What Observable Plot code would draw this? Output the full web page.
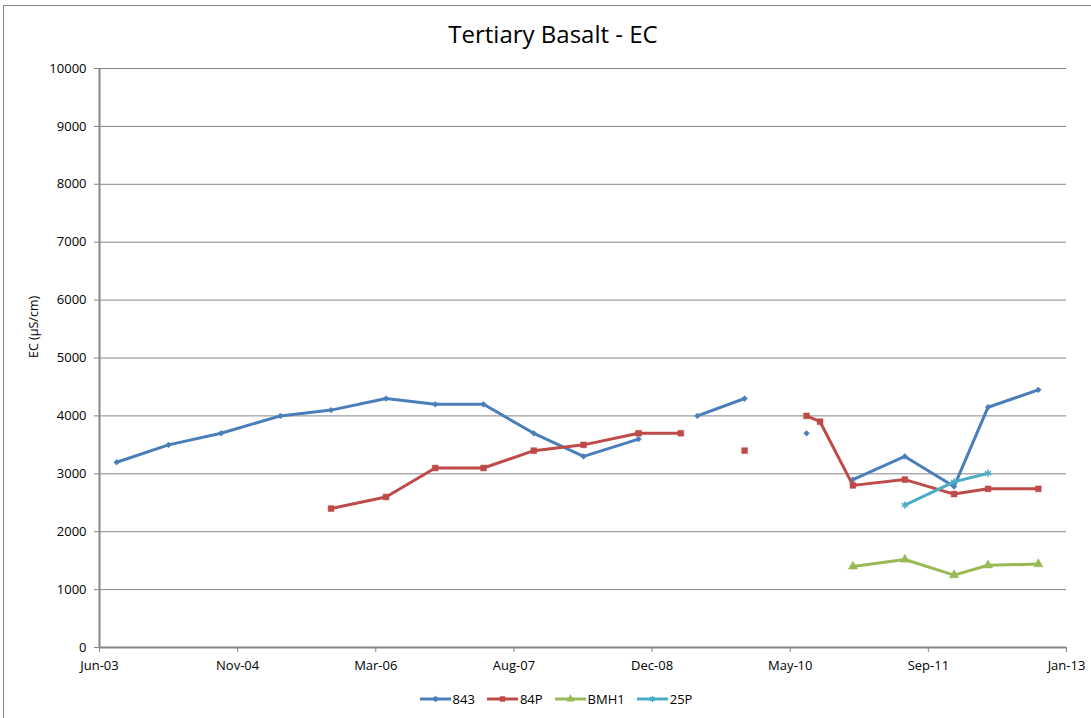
<!DOCTYPE html>
<html>
<head>
<meta charset="utf-8">
<script src="https://cdn.jsdelivr.net/npm/d3@7"></script>
<script src="https://cdn.jsdelivr.net/npm/@observablehq/plot@0.6"></script>
<style>
  html, body { margin: 0; padding: 0; background: #fff; overflow: hidden; }
  #frame { position: absolute; left: 3px; top: 5px; width: 1120px; height: 740px; border: 1px solid #868686; box-sizing: border-box; }
  #chart { position: relative; width: 1091px; }
  #title { height: 55px; box-sizing: border-box; padding-top: 19px; padding-left: 15px; text-align: center;
           font-family: "Open Sans", sans-serif; font-size: 24px; line-height: 30px; color: #000; }
  #legend { height: 38px; box-sizing: border-box; padding-left: 21px; display: flex; justify-content: center; align-items: center;
            font-family: "Open Sans", sans-serif; font-size: 13px; color: #000; }
  .item { display: flex; align-items: center; margin: 0 6px; }
  .item svg { margin-right: 2px; }
</style>
</head>
<body>
<div id="frame"></div>
<div id="chart">
  <div id="title">Tertiary Basalt - EC</div>
  <div id="plot"></div>
  <div id="legend"></div>
</div>
<script>
// ---- data ----
const dates = ["2003-08-29","2004-03-04","2004-09-10","2005-04-13","2005-10-13","2006-04-30","2006-10-25",
  "2007-04-18","2007-10-17","2008-04-14","2008-10-30","2009-04-01","2009-05-31","2009-11-18","2010-03-01",
  "2010-06-30","2010-08-18","2010-12-15","2011-06-21","2011-12-16","2012-04-17","2012-10-16"];
const s843  = [3200,3500,3700,4000,4100,4300,4200,4200,3700,3300,3600,null,4000,4300,null,3700,null,2900,3300,2780,4150,4450];
const s84P  = [null,null,null,null,2400,2600,3100,3100,3400,3500,3700,3700,null,3400,null,4000,3900,2800,2900,2650,2740,2740];
const sBMH1 = [null,null,null,null,null,null,null,null,null,null,null,null,null,null,null,null,null,1400,1520,1250,1420,1440];
const s25P  = [null,null,null,null,null,null,null,null,null,null,null,null,null,null,null,null,null,null,2460,2860,3010];
const seriesNames = ["843", "84P", "BMH1", "25P"];
const seriesValues = [s843, s84P, sBMH1, s25P];
const seriesColors = ["#4A7EBB", "#BE4B48", "#98B954", "#4BACC6"];
const seriesSymbols = ["diamond2", "square", "triangle", "asterisk"];
const yTicks = [0,1000,2000,3000,4000,5000,6000,7000,8000,9000,10000];
const xStart = "2003-06-28";
const xStepDays = 500;
const xTickCount = 8;

// ---- build ----
const DAY = 864e5;
const start = new Date(xStart + "T00:00:00Z");
const xTicks = d3.range(xTickCount).map(k => new Date(+start + k * xStepDays * DAY));
const end = xTicks[xTicks.length - 1];

const marks = [
  Plot.ruleY(yTicks.filter(v => v > 0), {stroke: "#868686", strokeWidth: 1}),
  Plot.axisY({ticks: yTicks, tickFormat: d => String(d), tickSize: 5, tickPadding: 8, label: null, stroke: "#868686", color: "#000"}),
  Plot.axisX({ticks: xTicks, tickFormat: d3.utcFormat("%b-%y"), tickSize: 5, tickPadding: 8, label: null, stroke: "#868686", color: "#000"}),
  Plot.ruleX([start], {stroke: "#868686", strokeWidth: 2}),
  Plot.ruleY([0], {stroke: "#868686", strokeWidth: 2})
];

seriesNames.forEach((name, si) => {
  const rows = dates.map((d, i) => ({date: new Date(d + "T00:00:00Z"), value: seriesValues[si][i] ?? null}));
  marks.push(Plot.line(rows, {x: "date", y: "value", stroke: seriesColors[si], strokeWidth: 3, strokeLinejoin: "round", strokeLinecap: "butt"}));
  const sym = seriesSymbols[si];
  const isStroke = sym === "asterisk";
  marks.push(Plot.dot(rows.filter(r => r.value != null), {
    x: "date", y: "value", symbol: sym,
    r: sym === "diamond2" ? 2.6 : sym === "square" ? 3.3 : 3.4,
    fill: isStroke ? "none" : seriesColors[si],
    stroke: seriesColors[si], strokeWidth: isStroke ? 1.5 : 0.5
  }));
});

marks.push(Plot.text(["EC (µS/cm)"], {frameAnchor: "left", dx: -66, rotate: -90, fontSize: 12.5, fill: "#000"}));

const chart = Plot.plot({
  width: 1091, height: 625,
  marginTop: 13, marginBottom: 33, marginLeft: 99, marginRight: 25,
  style: {fontFamily: "'Open Sans', sans-serif", fontSize: "13px", color: "#000", background: "transparent"},
  x: {type: "utc", domain: [start, end]},
  y: {domain: [0, 10000]},
  marks
});
document.getElementById("plot").appendChild(chart);

// ---- legend ----
const legend = document.getElementById("legend");
const symMap = {diamond2: d3.symbolDiamond2, square: d3.symbolSquare, triangle: d3.symbolTriangle, asterisk: d3.symbolAsterisk};
seriesNames.forEach((name, si) => {
  const item = document.createElement("div");
  item.className = "item";
  const ns = "http://www.w3.org/2000/svg";
  const svg = document.createElementNS(ns, "svg");
  svg.setAttribute("width", 31); svg.setAttribute("height", 10);
  const line = document.createElementNS(ns, "line");
  line.setAttribute("x1", 0); line.setAttribute("x2", 31); line.setAttribute("y1", 5); line.setAttribute("y2", 5);
  line.setAttribute("stroke", seriesColors[si]); line.setAttribute("stroke-width", 3);
  svg.appendChild(line);
  const path = document.createElementNS(ns, "path");
  path.setAttribute("d", d3.symbol(symMap[seriesSymbols[si]], 24)());
  path.setAttribute("transform", "translate(15.5,5)");
  const isStroke = seriesSymbols[si] === "asterisk";
  path.setAttribute("fill", isStroke ? "none" : seriesColors[si]);
  path.setAttribute("stroke", seriesColors[si]);
  path.setAttribute("stroke-width", isStroke ? 1.5 : 0.5);
  svg.appendChild(path);
  item.appendChild(svg);
  const span = document.createElement("span");
  span.textContent = name;
  item.appendChild(span);
  legend.appendChild(item);
});
</script>
</body>
</html>
